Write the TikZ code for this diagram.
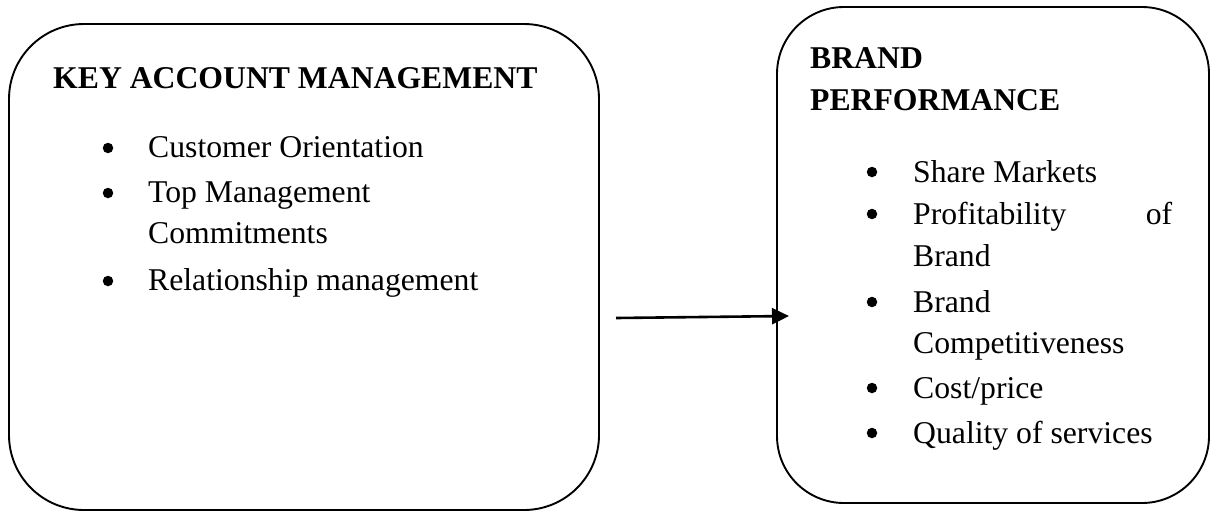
\documentclass[tikz,border=0pt]{standalone}
\usepackage{fontspec}
\setmainfont{Liberation Serif}
\usetikzlibrary{arrows.meta}
\begin{document}
\begin{tikzpicture}[x=1pt,y=-1pt,
  box/.style={draw, line width=1.9pt, inner sep=0pt},
  head/.style={anchor=base west, inner sep=0pt, font=\fontsize{31.7}{38}\selectfont\bfseries},
  itemtext/.style={anchor=base west, inner sep=0pt, font=\fontsize{31.7}{38}\selectfont},
  dot/.style={circle, fill, inner sep=0pt, minimum size=10.5pt},
  link/.style={line width=2.6pt, -{Triangle[length=17pt,width=16pt]}}]
\useasboundingbox (0,0) rectangle (1212,512);
% boxes
\node[box, rounded corners=75pt, minimum width=590pt, minimum height=486pt] (kam) at (304,267) {};
\node[box, rounded corners=67pt, minimum width=432pt, minimum height=496pt] (bp) at (993,255) {};
% left text
\node[head] (kamt) at (53,88) {KEY ACCOUNT MANAGEMENT};
\node[dot] (lb1) at (108,148) {};
\node[itemtext] (l1) at (148,157) {Customer Orientation};
\node[dot] (lb2) at (108,193) {};
\node[itemtext] (l2a) at (148,202) {Top Management};
\node[itemtext] (l2b) at (148,243) {Commitments};
\node[dot] (lb3) at (108,281) {};
\node[itemtext] (l3) at (148,290) {Relationship management};
% right text
\node[head] (bpt1) at (810,68) {BRAND};
\node[head] (bpt2) at (810,110) {PERFORMANCE};
\node[dot] (rb1) at (872,172) {};
\node[itemtext] (r1) at (913,182) {Share Markets};
\node[dot] (rb2) at (872,214) {};
\node[itemtext] (r2a) at (913,224) {\hbox to 259pt{Profitability\hfill of}};
\node[itemtext] (r2b) at (913,266) {Brand};
\node[dot] (rb3) at (872,302) {};
\node[itemtext] (r3a) at (913,312) {Brand};
\node[itemtext] (r3b) at (913,353) {Competitiveness};
\node[dot] (rb4) at (872,388) {};
\node[itemtext] (r4) at (913,398) {Cost/price};
\node[dot] (rb5) at (872,433) {};
\node[itemtext] (r5) at (913,443) {Quality of services};
% arrow
\coordinate (as) at (616,318);
\coordinate (ae) at (789,316);
\draw[link] (as) -- (ae);
\end{tikzpicture}
\end{document}
